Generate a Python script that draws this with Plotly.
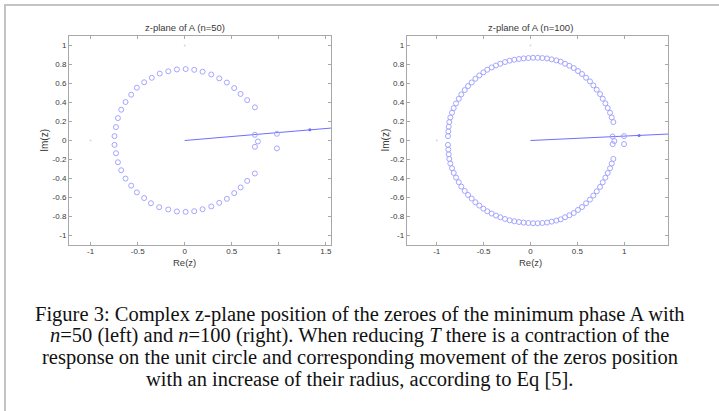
import plotly.graph_objects as go

# ---------------- data ----------------
# n = 50 zeros
re50 = [0.746, 0.664, 0.594, 0.526, 0.448, 0.367, 0.282, 0.190, 0.101, 0.010,
        -0.083, -0.175, -0.265, -0.350, -0.431, -0.509, -0.569, -0.629, -0.675,
        -0.710, -0.731, -0.746,
        -0.746, -0.731, -0.710, -0.675, -0.629, -0.569, -0.509, -0.431, -0.359,
        -0.271, -0.175, -0.083, 0.010, 0.101, 0.190, 0.282, 0.367, 0.448, 0.526,
        0.594, 0.664, 0.746,
        0.746, 0.778, 0.746, 0.980, 0.980]
im50 = [0.349, 0.425, 0.490, 0.552, 0.610, 0.654, 0.695, 0.724, 0.744, 0.752,
        0.748, 0.728, 0.704, 0.660, 0.613, 0.556, 0.482, 0.405, 0.324,
        0.236, 0.141, 0.046,
        -0.046, -0.134, -0.229, -0.313, -0.401, -0.475, -0.546, -0.606, -0.660,
        -0.702, -0.726, -0.747, -0.751, -0.744, -0.723, -0.694, -0.656, -0.614,
        -0.554, -0.494, -0.425, -0.347,
        0.060, -0.010, -0.066, 0.071, -0.083]

# n = 100 zeros
re100 = [0.883, 0.866, 0.848, 0.823, 0.798, 0.770, 0.741, 0.706, 0.670, 0.634,
         0.592, 0.549, 0.506, 0.461, 0.414, 0.368, 0.322, 0.275, 0.226, 0.176,
         0.126, 0.077, 0.027, -0.023, -0.073, -0.123, -0.173, -0.222, -0.272,
         -0.322, -0.368, -0.414, -0.461, -0.503, -0.546, -0.588, -0.627, -0.666,
         -0.701, -0.738, -0.765, -0.794, -0.819, -0.837, -0.855, -0.866, -0.872,
         -0.876, -0.880,
         -0.880, -0.876, -0.872, -0.866, -0.855, -0.837, -0.819, -0.794, -0.765,
         -0.738, -0.701, -0.666, -0.627, -0.588, -0.546, -0.503, -0.461, -0.414,
         -0.368, -0.322, -0.272, -0.222, -0.173, -0.123, -0.073, -0.023, 0.027,
         0.077, 0.126, 0.176, 0.226, 0.275, 0.322, 0.368, 0.414, 0.461, 0.506,
         0.549, 0.592, 0.634, 0.670, 0.706, 0.741, 0.770, 0.798, 0.823, 0.848,
         0.866, 0.883,
         0.876, 0.894, 0.876, 0.997, 0.997]
im100 = [0.194, 0.243, 0.292, 0.342, 0.391, 0.440, 0.489, 0.535, 0.580, 0.622,
         0.661, 0.700, 0.731, 0.763, 0.787, 0.808, 0.830, 0.843, 0.854, 0.864,
         0.868, 0.871, 0.871, 0.868, 0.864, 0.858, 0.850, 0.840, 0.826,
         0.808, 0.790, 0.769, 0.745, 0.717, 0.685, 0.650, 0.611, 0.573,
         0.531, 0.485, 0.439, 0.390, 0.341, 0.292, 0.242, 0.194, 0.145,
         0.096, 0.046,
         -0.046, -0.096, -0.145, -0.194, -0.242, -0.292, -0.341, -0.390, -0.439,
         -0.485, -0.531, -0.573, -0.611, -0.650, -0.685, -0.717, -0.745, -0.769,
         -0.790, -0.808, -0.826, -0.840, -0.850, -0.858, -0.864, -0.868, -0.871,
         -0.871, -0.868, -0.864, -0.854, -0.843, -0.830, -0.808, -0.787, -0.763,
         -0.731, -0.700, -0.661, -0.622, -0.580, -0.535, -0.489, -0.440, -0.391,
         -0.342, -0.292, -0.243, -0.194,
         0.042, -0.006, -0.038, 0.046, -0.038]

# straight line plotted from the origin (with a '.' marker on it)
line50_re = [0.0, 1.33, 1.70]
line50_im = [0.0, 0.112, 0.143]
line100_re = [0.0, 1.157, 1.60]
line100_im = [0.0, 0.053, 0.074]

# faint reference dots
ref_re = [-1.0, 0.0]
ref_im = [0.0, 1.0]

titles = ["z-plane of A (n=50)", "z-plane of A (n=100)"]
yticks = [1, 0.8, 0.6, 0.4, 0.2, 0, -0.2, -0.4, -0.6, -0.8, -1]
ytick_text = ["1", "0.8", "0.6", "0.4", "0.2", "0", "-0.2", "-0.4", "-0.6", "-0.8", "-1"]
xticks50 = [-1, -0.5, 0, 0.5, 1, 1.5]
xtick_text50 = ["-1", "-0.5", "0", "0.5", "1", "1.5"]
xticks100 = [-1, -0.5, 0, 0.5, 1]
xtick_text100 = ["-1", "-0.5", "0", "0.5", "1"]

caption_lines = [
    "Figure 3: Complex z-plane position of the zeroes of the minimum phase A with",
    "<i>n</i>=50 (left) and <i>n</i>=100 (right). When reducing <i>T</i> there is a contraction of the",
    "response on the unit circle and corresponding movement of the zeros position",
    "with an increase of their radius, according to Eq [5].",
]

# ---------------- figure ----------------
W, H = 719, 411
MARK = "rgb(165,165,255)"
LINEC = "rgb(110,110,255)"
AXC = "#a8a8a8"
TXT = "#3a3a3a"

fig = go.Figure()

for k, (zr, zi, lr, li, xa, ya) in enumerate([
        (re50, im50, line50_re, line50_im, "x", "y"),
        (re100, im100, line100_re, line100_im, "x2", "y2")]):
    fig.add_trace(go.Scatter(x=ref_re, y=ref_im, mode="markers", xaxis=xa, yaxis=ya,
                             marker=dict(size=2, color="#d8d8d8"), showlegend=False,
                             hoverinfo="skip"))
    fig.add_trace(go.Scatter(x=lr, y=li, mode="lines", xaxis=xa, yaxis=ya,
                             line=dict(color=LINEC, width=1), showlegend=False))
    fig.add_trace(go.Scatter(x=[lr[1]], y=[li[1]], mode="markers", xaxis=xa, yaxis=ya,
                             marker=dict(size=3, color=LINEC), showlegend=False))
    fig.add_trace(go.Scatter(x=zr, y=zi, mode="markers", xaxis=xa, yaxis=ya,
                             marker=dict(symbol="circle-open", size=5, color=MARK,
                                         line=dict(width=1, color=MARK)),
                             showlegend=False, cliponaxis=False))

def px_x(p):
    return p / W

def px_y(p):
    return 1 - p / H

common_ax = dict(showline=True, linecolor=AXC, linewidth=1, mirror="ticks",
                 ticks="inside", ticklen=3, tickcolor=AXC, showgrid=False,
                 zeroline=False, tickfont=dict(family="Liberation Sans, Arial", size=8, color=TXT),
                 fixedrange=True)

ydom = [px_y(245), px_y(36)]

fig.update_layout(
    width=W, height=H,
    margin=dict(l=0, r=0, t=0, b=0),
    paper_bgcolor="white", plot_bgcolor="white",
    xaxis=dict(domain=[px_x(69), px_x(331)], range=[-1.23, 1.555],
               tickvals=xticks50, ticktext=xtick_text50, anchor="y",
               ticklabelstandoff=-2, **common_ax),
    yaxis=dict(domain=ydom, range=[-1.10, 1.10], tickvals=yticks, ticktext=ytick_text,
               anchor="x", **common_ax),
    xaxis2=dict(domain=[px_x(406.7), px_x(668.3)], range=[-1.32, 1.469],
                tickvals=xticks100, ticktext=xtick_text100, anchor="y2",
                ticklabelstandoff=-2, **common_ax),
    yaxis2=dict(domain=ydom, range=[-1.10, 1.10], tickvals=yticks, ticktext=ytick_text,
                anchor="x2", **common_ax),
)

ann = []
# titles
for cx, t in zip([184.8, 530.5], titles):
    ann.append(dict(x=px_x(cx), y=px_y(27), xref="paper", yref="paper", text=t,
                    showarrow=False, xanchor="center", yanchor="middle",
                    font=dict(family="Liberation Sans, Arial", size=9.5, color=TXT)))
# axis labels
for cx in [184.8, 530.5]:
    ann.append(dict(x=px_x(cx), y=px_y(262), xref="paper", yref="paper", text="Re(z)",
                    showarrow=False, xanchor="center", yanchor="middle",
                    font=dict(family="Liberation Sans, Arial", size=9.5, color=TXT)))
for cx in [44.3, 385]:
    ann.append(dict(x=px_x(cx), y=px_y(140.5), xref="paper", yref="paper", text="Im(z)",
                    showarrow=False, xanchor="center", yanchor="middle", textangle=-90,
                    font=dict(family="Liberation Sans, Arial", size=10, color=TXT)))
# caption
for i, line in enumerate(caption_lines):
    ann.append(dict(x=px_x(359.5), y=px_y(314 + 21.8 * i), xref="paper", yref="paper",
                    text=line, showarrow=False, xanchor="center", yanchor="middle",
                    font=dict(family="Liberation Serif, Times New Roman, serif", size=20.5,
                              color="#111111")))
fig.update_layout(annotations=ann)

# outer frame (top and left edges)
fig.add_shape(type="line", xref="paper", yref="paper", x0=px_x(4), x1=1.0,
              y0=px_y(5), y1=px_y(5), line=dict(color="#c4c4c4", width=2))
fig.add_shape(type="line", xref="paper", yref="paper", x0=px_x(5), x1=px_x(5),
              y0=px_y(4), y1=0.0, line=dict(color="#c4c4c4", width=2))

fig.write_html("out.html", config={"displayModeBar": False},
               post_script="document.body.style.margin='0px';document.body.style.overflow='hidden';")
